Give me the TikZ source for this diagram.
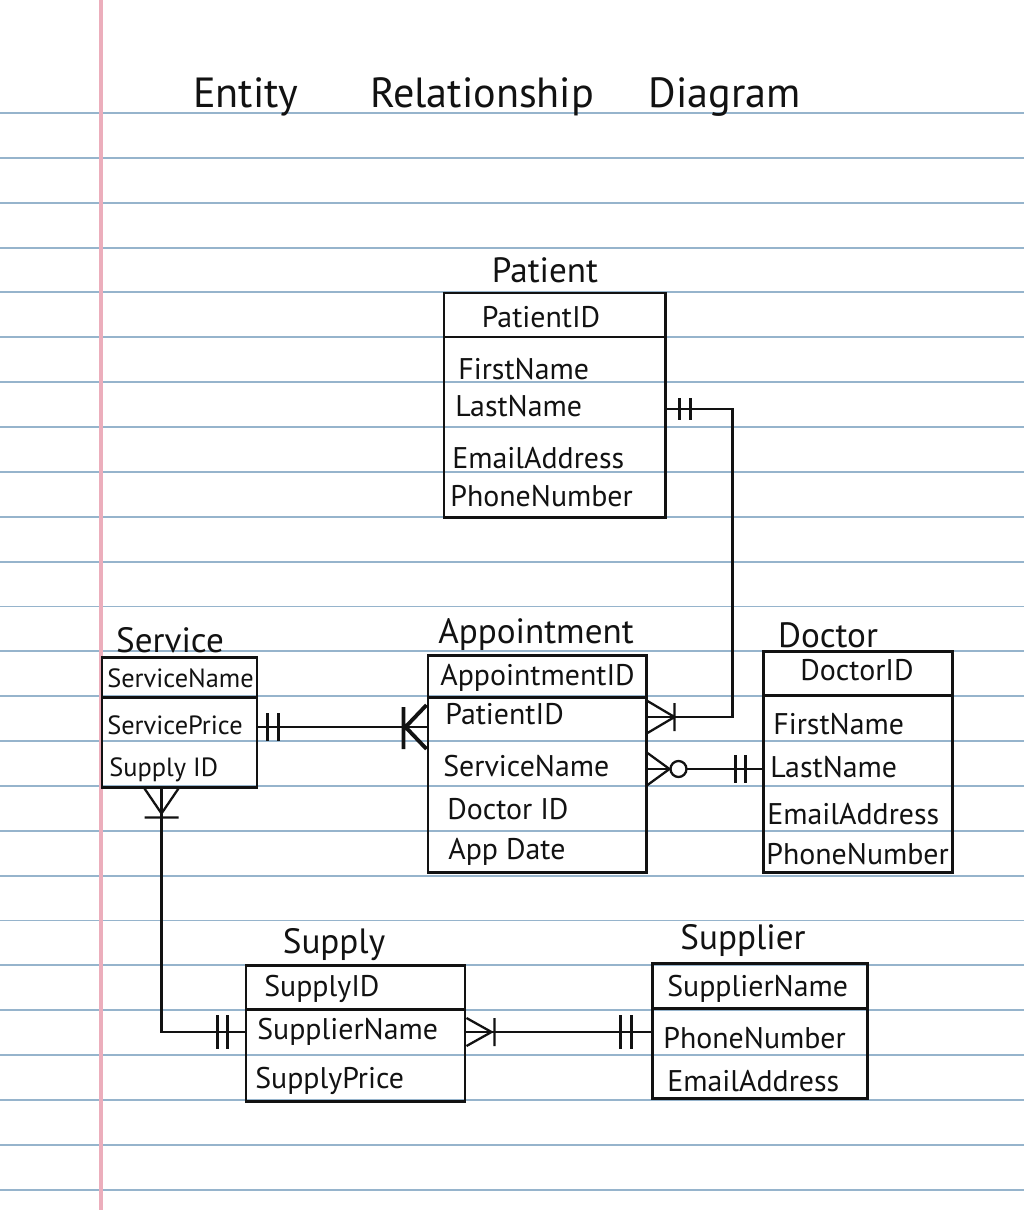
\documentclass[tikz,border=0pt]{standalone}
\usepackage{fontspec}
\setmainfont{PT Sans}
\usetikzlibrary{fit,calc}

\definecolor{rulingblue}{RGB}{150,180,204}
\definecolor{marginpink}{RGB}{236,174,188}
\definecolor{ink}{RGB}{18,18,18}

\tikzset{
	entity/.style = {draw = ink, line width = 1.7pt, inner sep = 0pt},
	attr/.style = {font = \fontsize{17}{20}\selectfont, text height = 12pt, text depth = 3pt, inner sep = 0pt, text = ink},
	small attr/.style = {attr, font = \fontsize{15}{18}\selectfont},
	enttitle/.style = {font = \fontsize{20}{24}\selectfont, inner sep = 0pt, text = ink},
	relation/.style = {draw = ink, line width = 1.3pt},
	ruled/.style = {draw = rulingblue, line width = 1.1pt}
}

\begin{document}
\begin{tikzpicture}[x = 0.02cm, y = -0.02cm]
	\fill[white] (0, 0) rectangle (1024, 1210);
	\useasboundingbox (0, 0) rectangle (1024, 1210);
	\foreach \k in {0, ..., 24}
		\draw[ruled] (0, 113 + 44.86*\k) -- (1024, 113 + 44.86*\k);
	\draw[marginpink, line width = 2.2pt] (101, 0) -- (101, 1210);

	\node[font = \fontsize{24}{28}\selectfont, inner sep = 0pt, text = ink] (heading) at (497, 97) {Entity\hspace{1.7em}Relationship\hspace{1.3em}Diagram};

	% Patient
	\node[enttitle] (patientTitle) at (545, 270) {Patient};
	\node[entity, fit = {(444, 293) (665, 517)}] (patient) {};
	\node[entity, fit = {(444, 293) (665, 337)}] (patientHead) {};
		\node[attr] (ptID) at (541, 320) {PatientID};
		\node[attr, anchor = west] (ptFirst) at (458, 372) {FirstName};
		\node[attr, anchor = west] (ptLast) at (455, 409) {LastName};
		\node[attr, anchor = west] (ptEmail) at (452, 461) {EmailAddress};
		\node[attr, anchor = west] (ptPhone) at (450, 499) {PhoneNumber};

	% Service
	\node[enttitle] (serviceTitle) at (170, 640) {Service};
	\node[entity, fit = {(102, 657) (257, 787)}] (service) {};
	\node[entity, fit = {(102, 657) (257, 697)}] (serviceHead) {};
		\node[small attr, anchor = west] (svName) at (107, 680) {ServiceName};
		\node[small attr, anchor = west] (svPrice) at (107, 727) {ServicePrice};
		\node[small attr, anchor = west] (svSupply) at (109, 769) {Supply ID};

	% Appointment
	\node[enttitle] (apptTitle) at (536, 635) {Appointment};
	\node[entity, fit = {(428, 655) (646, 872)}] (appt) {};
	\node[entity, fit = {(428, 655) (646, 697)}] (apptHead) {};
		\node[attr, anchor = west] (apID) at (440, 678) {AppointmentID};
		\node[attr, anchor = west] (apPatient) at (445, 717) {PatientID};
		\node[attr, anchor = west] (apService) at (443, 769) {ServiceName};
		\node[attr, anchor = west] (apDoctor) at (447, 812) {Doctor ID};
		\node[attr, anchor = west] (apDate) at (448, 852) {App Date};

	% Doctor
	\node[enttitle] (doctorTitle) at (828, 635) {Doctor};
	\node[entity, fit = {(763, 651) (952, 872)}] (doctor) {};
	\node[entity, fit = {(763, 651) (952, 695)}] (doctorHead) {};
		\node[attr] (drID) at (857, 673) {DoctorID};
		\node[attr, anchor = west] (drFirst) at (773, 727) {FirstName};
		\node[attr, anchor = west] (drLast) at (770, 770) {LastName};
		\node[attr, anchor = west] (drEmail) at (767, 817) {EmailAddress};
		\node[attr, anchor = west] (drPhone) at (766, 857) {PhoneNumber};

	% Supply
	\node[enttitle] (supplyTitle) at (334, 945) {Supply};
	\node[entity, fit = {(246, 965) (465, 1101)}] (supply) {};
	\node[entity, fit = {(246, 965) (465, 1009)}] (supplyHead) {};
		\node[attr, anchor = west] (suID) at (264, 989) {SupplyID};
		\node[attr, anchor = west] (suSupplier) at (257, 1032) {SupplierName};
		\node[attr, anchor = west] (suPrice) at (255, 1081) {SupplyPrice};

	% Supplier
	\node[enttitle] (supplierTitle) at (743, 940) {Supplier};
	\node[entity, fit = {(652, 963) (867, 1098)}] (supplier) {};
	\node[entity, fit = {(652, 963) (867, 1008)}] (supplierHead) {};
		\node[attr, anchor = west] (spName) at (667, 989) {SupplierName};
		\node[attr, anchor = west] (spPhone) at (663, 1041) {PhoneNumber};
		\node[attr, anchor = west] (spEmail) at (667, 1084) {EmailAddress};

	% Patient - Appointment
	\draw[relation] (patient.east |- ptLast) -- ++(66, 0) |- (appt.east |- apPatient);
	\draw[relation] (patient.east |- ptLast) ++(13, -11) -- ++(0, 22) ++(11, -22) -- ++(0, 22);
	\draw[relation] (appt.east |- apPatient) ++(0, -16) -- ++(27, 16) -- ++(-27, 16) ++(27, -30) -- ++(0, 28);

	% Service - Appointment
	\draw[relation] (service.east |- svPrice) -- (appt.west |- svPrice);
	\draw[relation] (service.east |- svPrice) ++(9, -14) -- ++(0, 28) ++(11, -28) -- ++(0, 28);
	\draw[relation, line width = 2.2pt] (appt.west |- svPrice) ++(0, -22) -- ++(-21, 22) -- ++(21, 22) ++(-23, -42) -- ++(0, 42);

	% Appointment - Doctor
	\draw[relation] (appt.east |- apService) -- (doctor.west |- apService);
	\draw[relation] (appt.east |- apService) ++(0, -16) -- ++(22, 16) -- ++(-22, 16);
	\draw[relation, fill = white] (appt.east |- apService) ++(31, 0) circle[radius = 8];
	\draw[relation] (doctor.west |- apService) ++(-26, -14) -- ++(0, 28) ++(10, -28) -- ++(0, 28);

	% Service - Supply
	\draw[relation] ($(service.south) + (-18, 0)$) |- (supply.west |- suSupplier);
	\draw[relation] ($(service.south) + (-18, 0)$) ++(-17, 0) -- ++(17, 25) -- ++(17, -25) ++(-34, 29) -- ++(34, 0);
	\draw[relation] (supply.west |- suSupplier) ++(-27, -17) -- ++(0, 34) ++(10, -34) -- ++(0, 34);

	% Supply - Supplier
	\draw[relation] (supply.east |- suSupplier) -- (supplier.west |- suSupplier);
	\draw[relation] (supply.east |- suSupplier) ++(0, -14) -- ++(25, 14) -- ++(-25, 14) ++(28, -28) -- ++(0, 28);
	\draw[relation] (supplier.west |- suSupplier) ++(-30, -17) -- ++(0, 34) ++(11, -34) -- ++(0, 34);
\end{tikzpicture}
\end{document}
